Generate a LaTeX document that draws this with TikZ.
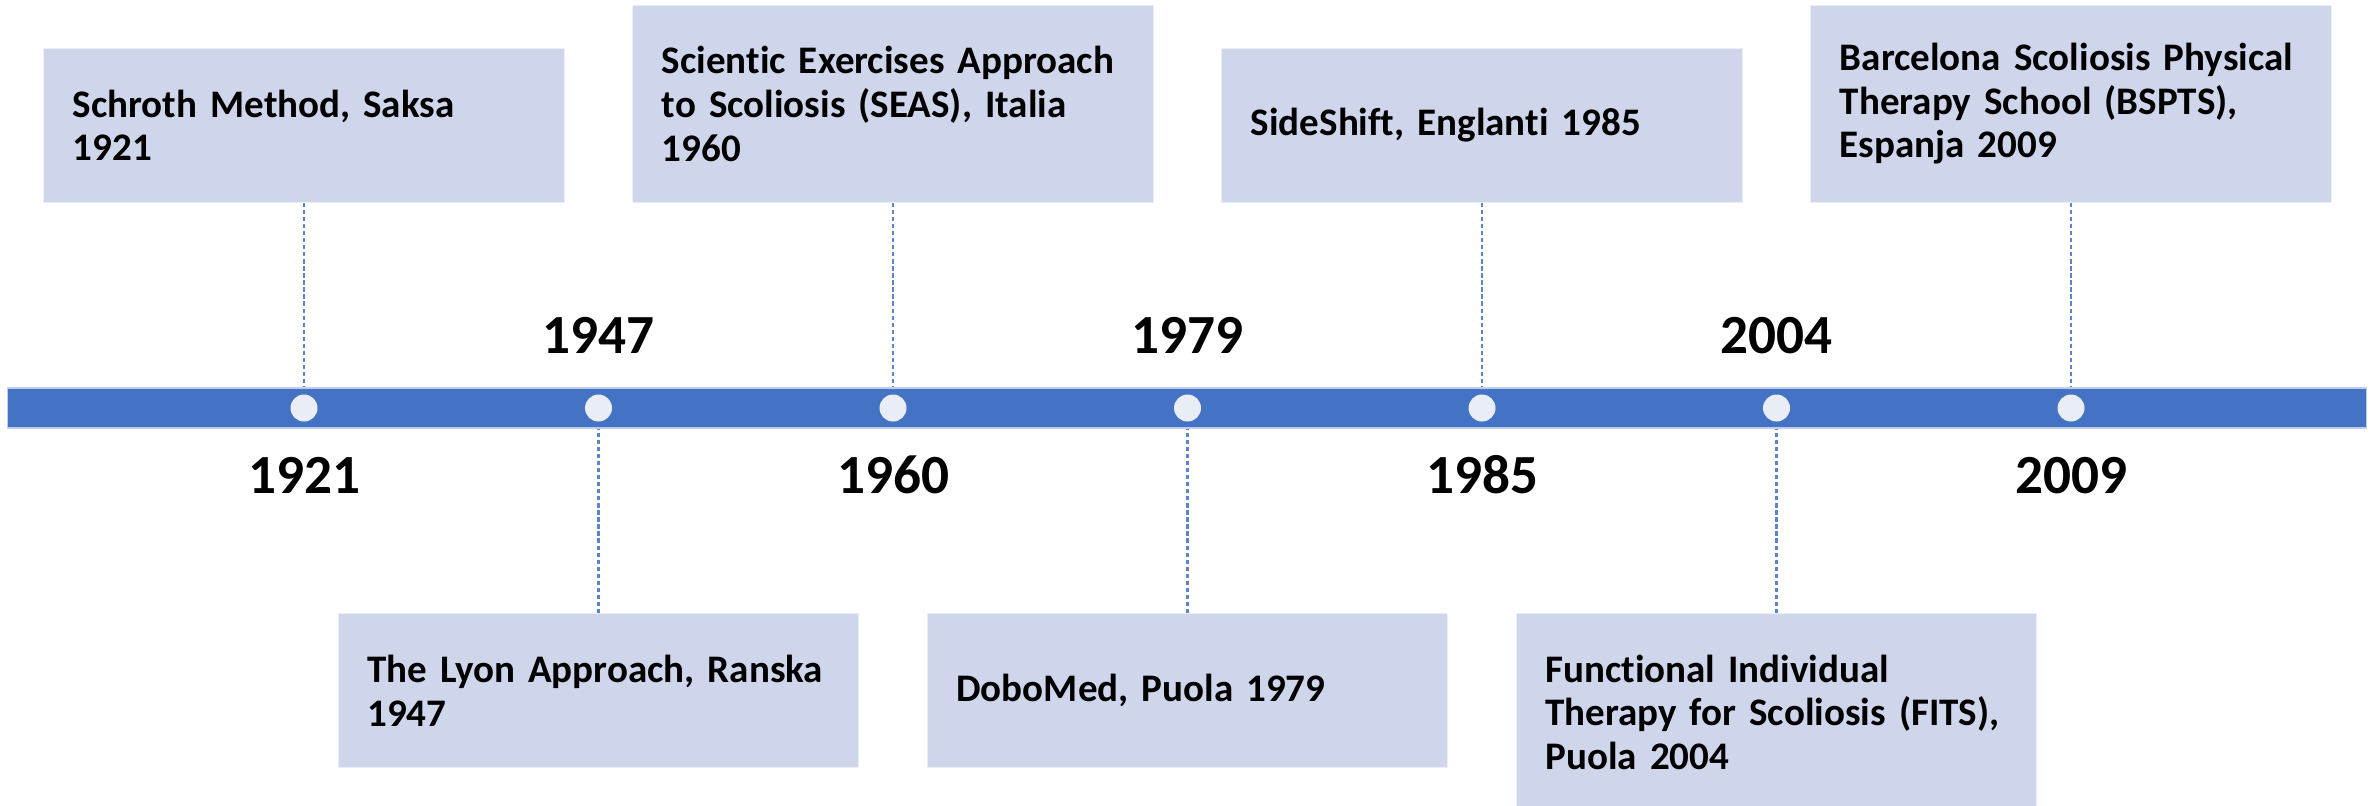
\documentclass[tikz,border=0pt]{standalone}
\usepackage{fontspec}
\setmainfont{Carlito}[Ligatures=NoCommon]
\usepackage{tikz}
\usetikzlibrary{positioning}
\usepackage{xcolor}

\definecolor{barblue}{HTML}{4472C4}
\definecolor{boxfill}{HTML}{CFD5EA}
\definecolor{dotfill}{HTML}{E9EDF6}
\definecolor{linkblue}{HTML}{5B84CF}

\begin{document}
\begin{tikzpicture}[
    x=0.01cm, y=-0.01cm,
    event box/.style={rectangle, fill=boxfill, draw=white!60!boxfill, line width=0.3pt,
        minimum width=5.2cm, text width=4.62cm, inner xsep=0.29cm, align=left,
        font=\bfseries\fontsize{11.1}{12.4}\selectfont},
    tall/.style={minimum height=1.97cm},
    short/.style={minimum height=1.54cm},
    year label/.style={anchor=base, inner sep=0pt, font=\bfseries\fontsize{15.7}{18}\selectfont},
    year dot/.style={circle, fill=dotfill, minimum size=0.27cm, inner sep=0pt},
    link/.style={draw=linkblue, line width=0.6pt, dash pattern=on 1.2pt off 0.8pt}
]
    \useasboundingbox (0,0) rectangle (2379,805);

    % Timeline bar
    \node[rectangle, fill=barblue, draw=barblue!35!white, line width=0.4pt,
        minimum width=23.58cm, minimum height=0.4cm, inner sep=0pt] (bar) at (1187,408) {};

    % Dots
    \node[year dot] (d1921) at (304,408) {};
    \node[year dot] (d1947) at (598.5,408) {};
    \node[year dot] (d1960) at (893,408) {};
    \node[year dot] (d1979) at (1187.5,408) {};
    \node[year dot] (d1985) at (1482,408) {};
    \node[year dot] (d2004) at (1776.5,408) {};
    \node[year dot] (d2009) at (2071,408) {};

    % Years
    \node[year label] (y1921) at (304,493) {1921};
    \node[year label] (y1947) at (598.5,353) {1947};
    \node[year label] (y1960) at (893,493) {1960};
    \node[year label] (y1979) at (1187.5,353) {1979};
    \node[year label] (y1985) at (1482,493) {1985};
    \node[year label] (y2004) at (1776.5,353) {2004};
    \node[year label] (y2009) at (2071,493) {2009};

    % Events above the bar
    \node[event box, short, anchor=south] (b1921) at (304,203)
        {Schroth Method, Saksa\\1921};
    \node[event box, tall, anchor=south] (b1960) at (893,203)
        {Scientic Exercises Approach\\to Scoliosis (SEAS), Italia\\1960};
    \node[event box, short, anchor=south] (b1985) at (1482,203)
        {SideShift, Englanti 1985};
    \node[event box, tall, anchor=south] (b2009) at (2071,203)
        {Barcelona Scoliosis Physical\\Therapy School (BSPTS),\\Espanja 2009};

    % Events below the bar
    \node[event box, short, anchor=north] (b1947) at (598.5,613)
        {The Lyon Approach, Ranska\\1947};
    \node[event box, short, anchor=north] (b1979) at (1187.5,613)
        {DoboMed, Puola 1979};
    \node[event box, tall, anchor=north] (b2004) at (1776.5,613)
        {Functional Individual\\Therapy for Scoliosis (FITS),\\Puola 2004};

    % Links
    \draw[link] (b1921.south) -- (b1921.south |- bar.north);
    \draw[link] (b1960.south) -- (b1960.south |- bar.north);
    \draw[link] (b1985.south) -- (b1985.south |- bar.north);
    \draw[link] (b2009.south) -- (b2009.south |- bar.north);
    \draw[link] (b1947.north) -- (b1947.north |- bar.south);
    \draw[link] (b1979.north) -- (b1979.north |- bar.south);
    \draw[link] (b2004.north) -- (b2004.north |- bar.south);
\end{tikzpicture}
\end{document}
